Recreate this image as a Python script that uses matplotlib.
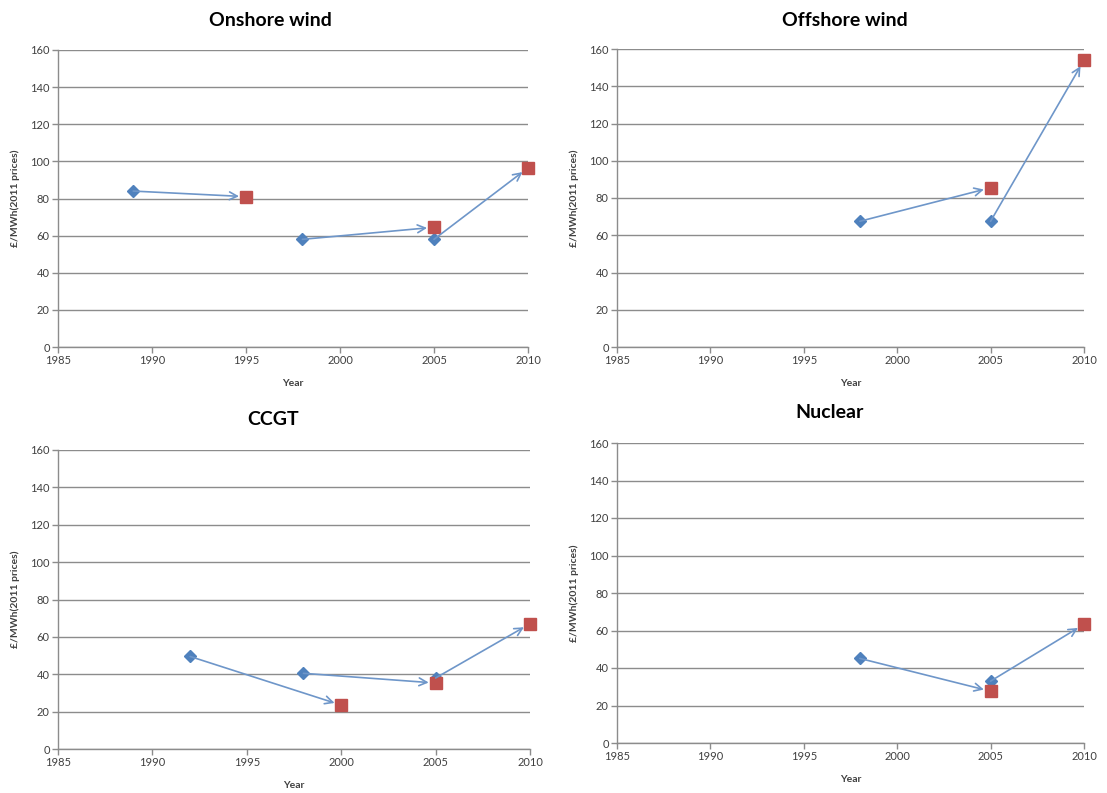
import matplotlib
matplotlib.use('Agg')
import matplotlib.pyplot as plt

plt.rcParams['font.family'] = ['Lato', 'DejaVu Sans']

# start points (diamonds) and end points (squares) for each technology
onshore_start_year = [1989, 1998, 2005]
onshore_start = [84, 58, 58]
onshore_end_year = [1995, 2005, 2010]
onshore_end = [81, 64.5, 96.5]

offshore_start_year = [1998, 2005]
offshore_start = [67.5, 67.5]
offshore_end_year = [2005, 2010]
offshore_end = [85.5, 154]

ccgt_start_year = [1992, 1998, 2005]
ccgt_start = [49.5, 40.5, 38]
ccgt_end_year = [2000, 2005, 2010]
ccgt_end = [23.5, 35.3, 67]

nuclear_start_year = [1998, 2005]
nuclear_start = [45.1, 33]
nuclear_end_year = [2005, 2010]
nuclear_end = [27.6, 63.3]

titles = ['Onshore wind', 'Offshore wind', 'CCGT', 'Nuclear']
x_ticks = [1985, 1990, 1995, 2000, 2005, 2010]
y_ticks = [0, 20, 40, 60, 80, 100, 120, 140, 160]

W, H = 1107, 793
BLUE = '#4F81BD'
ARROW = '#6E96C9'
RED = '#C0504D'
GRID = '#8C8C8C'
TXT = '#404040'


def add_ax(fig, x0, x1, y_top, y_bot):
    return fig.add_axes([x0 / W, (H - y_bot) / H, (x1 - x0) / W, (y_bot - y_top) / H])


def draw_panel(ax, sy, sv, ey, ev):
    ax.set_xlim(1985, 2010)
    ax.set_ylim(0, 160)
    ax.set_xticks(x_ticks)
    ax.set_yticks(y_ticks)
    ax.yaxis.grid(True, color=GRID, linewidth=1.0)
    ax.set_axisbelow(True)
    for s in ['top', 'right']:
        ax.spines[s].set_visible(False)
    for s in ['left', 'bottom']:
        ax.spines[s].set_color(GRID)
        ax.spines[s].set_linewidth(1.0)
    ax.tick_params(direction='out', length=4, width=1, color=GRID,
                   labelsize=8, labelcolor=TXT, pad=2)
    ax.set_xlabel('Year', fontsize=7.5, fontweight='bold', color=TXT, labelpad=9)
    ax.set_ylabel('£/MWh(2011 prices)', fontsize=7.5, fontweight='bold', color=TXT, labelpad=7)
    for x0, y0, x1, y1 in zip(sy, sv, ey, ev):
        ax.annotate('', xy=(x1, y1), xytext=(x0, y0),
                    arrowprops=dict(arrowstyle='->', color=ARROW, lw=1.2,
                                    shrinkA=0, shrinkB=5, mutation_scale=14),
                    zorder=4)
    ax.plot(sy, sv, linestyle='none', marker='D', markersize=6.5, color=BLUE,
            markeredgecolor=BLUE, zorder=3, clip_on=False)
    ax.plot(ey, ev, linestyle='none', marker='s', markersize=9, color=RED,
            markeredgecolor=RED, zorder=3, clip_on=False)


fig = plt.figure(figsize=(W / 100, H / 100), dpi=100)

ax1 = add_ax(fig, 58, 528, 50, 347)
ax2 = add_ax(fig, 617, 1084, 49, 347)
ax3 = add_ax(fig, 58, 530, 450, 749)
ax4 = add_ax(fig, 617, 1084, 443, 743)

draw_panel(ax1, onshore_start_year, onshore_start, onshore_end_year, onshore_end)
draw_panel(ax2, offshore_start_year, offshore_start, offshore_end_year, offshore_end)
draw_panel(ax3, ccgt_start_year, ccgt_start, ccgt_end_year, ccgt_end)
draw_panel(ax4, nuclear_start_year, nuclear_start, nuclear_end_year, nuclear_end)

title_pos = [(270, 20), (845, 20), (273, 420), (830, 413)]
for t, (tx, ty) in zip(titles, title_pos):
    fig.text(tx / W, 1 - ty / H, t, ha='center', va='center',
             fontsize=14, fontweight='bold', color='black')

fig.savefig('out.png', dpi=100)
